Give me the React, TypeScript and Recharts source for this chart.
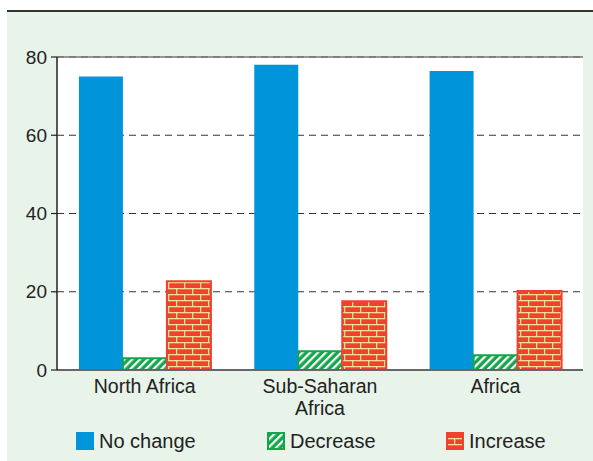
import React from "react";
import { BarChart, Bar, XAxis, YAxis, CartesianGrid, ReferenceLine } from "recharts";

const categories = ["North Africa", "Sub-Saharan Africa", "Africa"];
const noChange = [75, 78, 76.4];
const decrease = [3, 4.8, 3.8];
const increase = [22.7, 17.6, 20.2];
const yTicks = [0, 20, 40, 60, 80];
const seriesNames = ["No change", "Decrease", "Increase"];

const data = categories.map((name, i) => ({
  name,
  noChange: noChange[i],
  decrease: decrease[i],
  increase: increase[i],
}));

const FONT = "'Liberation Sans', Arial, sans-serif";
const BLUE = "#0095da";
const GREEN = "#14a64b";
const RED = "#ee4130";
const YELLOW = "#fbe08c";

const fills = [BLUE, "url(#hatchGreen)", "url(#brickRed)"];
const strokes = ["none", GREEN, RED];

const CatTick = (props: any) => {
  const { x, y, payload } = props;
  const text: string = payload.value;
  let lines = [text];
  if (text.length > 14) {
    const idx = text.lastIndexOf(" ");
    lines = [text.slice(0, idx), text.slice(idx + 1)];
  }
  return (
    <text x={x} y={y} textAnchor="middle" fill="#222" fontSize={19.5} fontFamily={FONT}>
      {lines.map((l, i) => (
        <tspan key={i} x={x} dy={i === 0 ? 15 : 22}>
          {l}
        </tspan>
      ))}
    </text>
  );
};

const LegendBlock = () => {
  const lefts = [76, 267, 446];
  return (
    <div style={{ position: "absolute", left: 0, top: 429, width: 593, height: 24 }}>
      {seriesNames.map((n, i) => (
        <div
          key={n}
          style={{
            position: "absolute",
            left: lefts[i],
            top: 0,
            height: 24,
            display: "flex",
            alignItems: "center",
            fontFamily: FONT,
            fontSize: 20,
            color: "#222",
          }}
        >
          <svg width={18} height={18} style={{ marginRight: 5 }}>
            <rect
              x={i === 0 ? 0 : 1}
              y={i === 0 ? 0 : 1}
              width={i === 0 ? 18 : 16}
              height={i === 0 ? 18 : 16}
              fill={fills[i]}
              stroke={strokes[i]}
              strokeWidth={2}
            />
          </svg>
          <span>{n}</span>
        </div>
      ))}
    </div>
  );
};

export default function App() {
  return (
    <div style={{ position: "absolute", left: 0, top: 0, width: 593, height: 461, background: "#fff", fontFamily: FONT }}>
      <svg width={0} height={0} style={{ position: "absolute" }}>
        <defs>
          <pattern id="hatchGreen" patternUnits="userSpaceOnUse" width={5.5} height={5.5} patternTransform="rotate(45)">
            <rect width={5.5} height={5.5} fill={GREEN} />
            <rect x={0} y={0} width={2.2} height={5.5} fill="#ffffff" />
          </pattern>
          <pattern id="brickRed" patternUnits="userSpaceOnUse" width={16} height={12}>
            <rect width={16} height={12} fill={RED} />
            <rect x={0} y={0} width={16} height={1.3} fill={YELLOW} />
            <rect x={0} y={6} width={16} height={1.3} fill={YELLOW} />
            <rect x={0} y={0} width={1.3} height={6} fill={YELLOW} />
            <rect x={8} y={6} width={1.3} height={6} fill={YELLOW} />
          </pattern>
        </defs>
      </svg>
      <div
        style={{
          position: "absolute",
          left: 7,
          top: 10,
          right: 0,
          bottom: 0,
          background: "#e8f3ea",
          borderTop: "2px solid #333",
        }}
      />
      <div style={{ position: "absolute", left: 0, top: 0 }}>
        <BarChart
          width={593}
          height={461}
          data={data}
          margin={{ top: 57, right: 10, bottom: 0, left: 0 }}
          barCategoryGap="12.5%"
          barGap={0}
        >
          <CartesianGrid vertical={false} fill="#ffffff" stroke="#333" strokeDasharray="7 5" />
          <XAxis
            xAxisId="b"
            type="number"
            domain={[0, 3]}
            ticks={[0, 1, 2, 3]}
            height={0}
            tick={false}
            axisLine={false}
            tickLine={{ stroke: "#333", strokeWidth: 1.5 }}
            tickSize={6}
          />
          <XAxis
            dataKey="name"
            height={91}
            tickLine={false}
            axisLine={{ stroke: "#666", strokeWidth: 2 }}
            tick={<CatTick />}
            interval={0}
          />
          <YAxis
            domain={[0, 80]}
            ticks={yTicks}
            width={57}
            axisLine={{ stroke: "#222", strokeWidth: 1.5 }}
            tickLine={{ stroke: "#222", strokeWidth: 1.2 }}
            tickSize={6}
            tickMargin={4}
            tick={{ fontSize: 19, fill: "#222", fontFamily: FONT }}
          />
          <ReferenceLine y={80} stroke="#777" strokeWidth={1.5} />
          <ReferenceLine xAxisId="b" x={3} stroke="#777" strokeWidth={1.5} />
          <Bar dataKey="noChange" name={seriesNames[0]} fill={fills[0]} isAnimationActive={false} />
          <Bar dataKey="decrease" name={seriesNames[1]} fill={fills[1]} stroke={strokes[1]} strokeWidth={2} isAnimationActive={false} />
          <Bar dataKey="increase" name={seriesNames[2]} fill={fills[2]} stroke={strokes[2]} strokeWidth={2} isAnimationActive={false} />
        </BarChart>
      </div>
      <LegendBlock />
    </div>
  );
}
